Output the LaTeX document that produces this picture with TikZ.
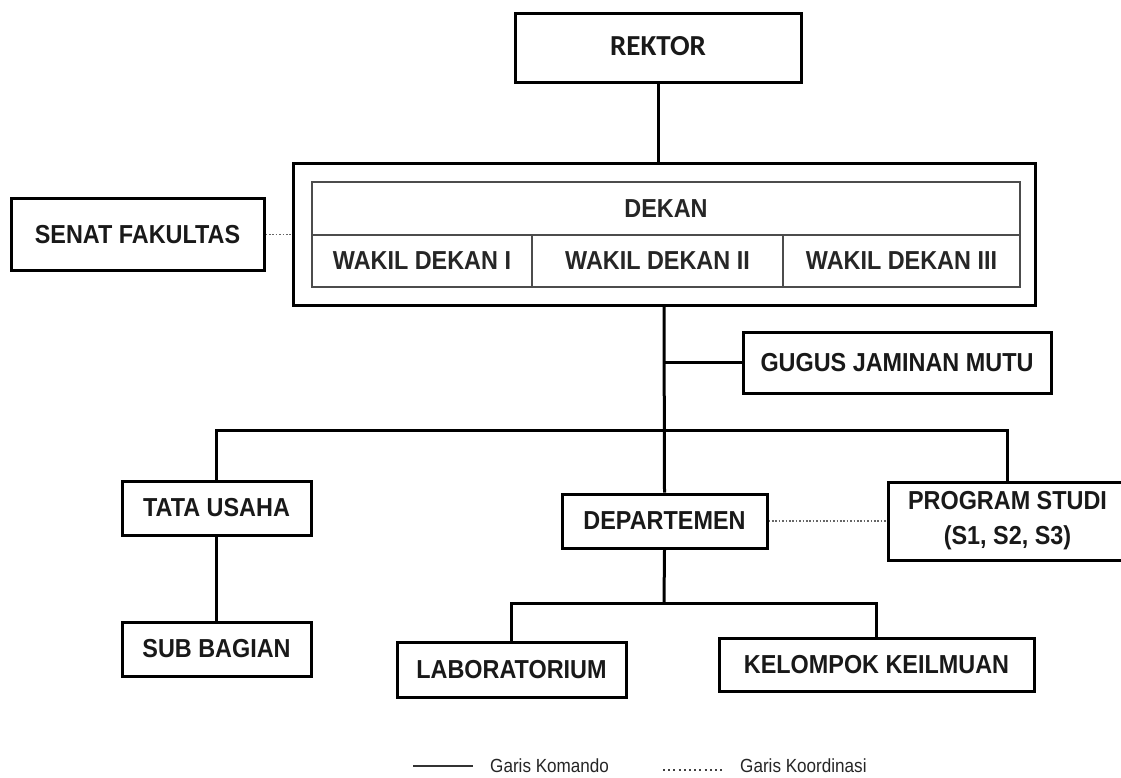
\documentclass[tikz,border=0pt]{standalone}
\usepackage{fontspec}
\setmainfont{Liberation Sans}
\newfontfamily\boxfont[FakeStretch=0.9]{Liberation Sans}
\newfontfamily\calibrifont{Carlito}
\begin{document}
\begin{tikzpicture}[x=1pt,y=-1pt,
  box/.style={draw=black, line width=3pt, rectangle, inner sep=0pt, align=center,
    font=\boxfont\fontsize{26}{35}\selectfont\bfseries, text=black!90},
  cell/.style={draw=black!70, line width=1.4pt, rectangle, inner sep=0pt,
    font=\boxfont\fontsize{26}{28}\selectfont\bfseries, text=black!85},
  cmd/.style={line width=3pt, black},
  crd/.style={line width=1.6pt, black!60, dash pattern=on 1.6pt off 1.8pt},
  legtext/.style={anchor=west, inner sep=0pt, font=\boxfont\fontsize{19}{20}\selectfont, text=black!85},
]
\useasboundingbox[fill=white] (0,0) rectangle (1121,778);

% boxes
\node[box, minimum width=286pt, minimum height=69pt, font=\calibrifont\fontsize{29}{32}\selectfont\bfseries] (rektor) at (658,48.5) {\raisebox{5pt}{REKTOR}};
\node[box, minimum width=742pt, minimum height=141pt] (dekanbox) at (664,234.5) {};
\node[cell, minimum width=708pt, minimum height=53pt] (dekan) at (666,208.5) {DEKAN};
\node[cell, minimum width=220pt, minimum height=52pt] (wd1) at (422,261) {WAKIL DEKAN I};
\node[cell, minimum width=251pt, minimum height=52pt] (wd2) at (657.5,261) {WAKIL DEKAN II};
\node[cell, minimum width=237pt, minimum height=52pt] (wd3) at (901.5,261) {WAKIL DEKAN III};

\node[box, minimum width=253pt, minimum height=71pt] (senat) at (137.5,234.5) {SENAT FAKULTAS};
\node[box, minimum width=308pt, minimum height=61pt] (gugus) at (897,362.5) {GUGUS JAMINAN MUTU};
\node[box, minimum width=189pt, minimum height=54pt] (tata) at (216.5,508) {TATA USAHA};
\node[box, minimum width=189pt, minimum height=54pt] (sub) at (216.5,649) {SUB BAGIAN};
\node[box, minimum width=205pt, minimum height=54pt] (dept) at (664.5,521) {DEPARTEMEN};
\node[box, minimum width=239pt, minimum height=78pt] (prog) at (1007.5,521) {PROGRAM STUDI\\(S1, S2, S3)};
\node[box, minimum width=229pt, minimum height=55pt] (lab) at (511.5,669.5) {LABORATORIUM};
\node[box, minimum width=315pt, minimum height=53pt] (kel) at (876.5,664.5) {KELOMPOK KEILMUAN};

% command lines
\draw[cmd] (rektor.south) -- (rektor.south |- dekanbox.north);
\draw[cmd] (dekanbox.south) -- (dept.north);
\draw[cmd] (gugus.west) -- (gugus.west -| dekanbox.south);
\coordinate (bus) at (664,430);
\draw[cmd] (tata.north) |- (bus) -| (prog.north);
\draw[cmd] (tata.south) -- (sub.north);
\coordinate (bus2) at (664,603);
\draw[cmd] (dept.south) -- (bus2);
\draw[cmd] (lab.north) |- (bus2) -| (kel.north);

% coordination lines
\draw[crd] (senat.east) -- (dekanbox.west);
\draw[crd] (dept.east) -- (prog.west);

% legend
\coordinate (ka) at (413,766);
\coordinate (kb) at (473,766);
\draw[line width=1.2pt, black!80] (ka) -- (kb);
\node[legtext] (lk) at (490,766) {Garis Komando};
\coordinate (da) at (663,770);
\coordinate (db) at (722,770);
\draw[line width=1.6pt, black!75, dash pattern=on 2pt off 3.2pt] (da) -- (db);
\node[legtext] (ld) at (740,766) {Garis Koordinasi};
\end{tikzpicture}
\end{document}
